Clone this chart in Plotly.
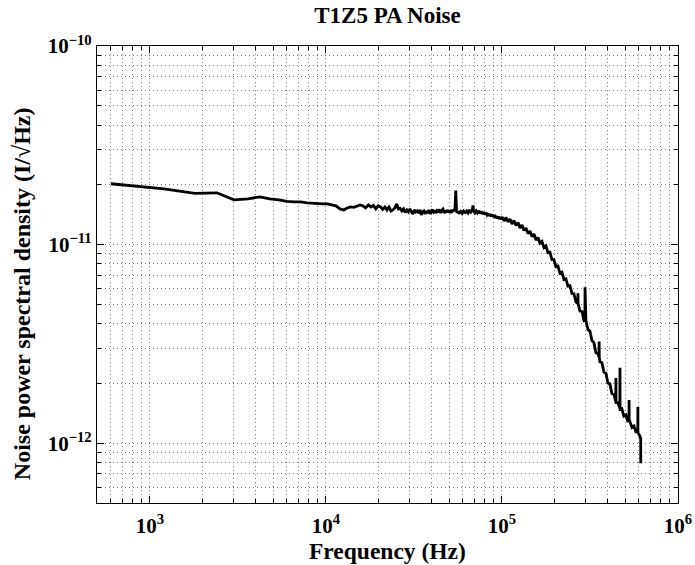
import math
import plotly.graph_objects as go

# ---- data ----
title_text = "T1Z5 PA Noise"
x_label = "Frequency (Hz)"
y_label = "Noise power spectral density (I/\u221aHz)"

# frequency in Hz
freq_hz = [
    600, 1200, 1800, 2400, 3000, 3600, 4200, 4800, 5400, 6000,
    6600, 7200, 7800, 8400, 9000, 9600, 10200, 10800, 11400, 12000,
    12600, 13200, 13800, 14400, 15000, 15600, 16200, 16800, 17400, 18000,
    18600, 19200, 19800, 20400, 21000, 21600, 22200, 22800, 23400, 24000,
    24600, 25200, 25800, 26400, 27000, 27600, 28200, 28800, 29400, 30000,
    30600, 31200, 31800, 32400, 33000, 33600, 34200, 34800, 35400, 36000,
    36600, 37200, 37800, 38400, 39000, 39600, 40200, 40800, 41400, 42000,
    42600, 43200, 43800, 44400, 45000, 45600, 46200, 46800, 47400, 48000,
    48600, 49200, 49800, 50400, 51000, 51600, 52200, 53400, 54000, 54600,
    55200, 55800, 57000, 58200, 59400, 60600, 61800, 63000, 64200, 65400,
    66600, 67800, 68400, 69000, 70200, 71400, 72600, 73800, 75000, 76200,
    77400, 78600, 79800, 81000, 82200, 83400, 84600, 85800, 87000, 88200,
    89400, 90600, 91800, 93000, 94200, 95400, 96600, 97800, 99000,
    100000, 102700, 105400, 108200, 111000, 114000, 117000, 120100, 123300, 126500,
    129900, 133300, 136900, 140500, 144200, 148000, 151900, 156000, 160100, 164300,
    168700, 173200, 177700, 182400, 187300, 192200, 197300, 202500, 207900, 213400,
    219100, 224900, 230800, 236900, 243200, 249700, 256300, 263100, 269400, 270000,
    270600, 277200, 284500, 292100, 295800, 296400, 297000, 299800, 307700, 315900,
    324300, 332900, 341700, 350700, 355800, 356400, 357000, 360000, 369600, 379400,
    389400, 399700, 410300, 421200, 432400, 443200, 443800, 444400, 455600, 467400,
    468000, 468600, 480000, 492700, 505800, 519200, 526800, 527400, 528000, 532900,
    547100, 561600, 576400, 591000, 591600, 592200, 607400, 613800, 614400,
]

# spectral density in units of 1e-11 (per sqrt Hz)
psd_1e11 = [
    2.025, 1.910, 1.812, 1.823, 1.680, 1.700, 1.740, 1.700, 1.681, 1.651,
    1.641, 1.641, 1.622, 1.613, 1.613, 1.604, 1.604, 1.585, 1.567, 1.512,
    1.495, 1.530, 1.548, 1.540, 1.567, 1.585, 1.567, 1.530, 1.585, 1.548,
    1.576, 1.512, 1.567, 1.548, 1.503, 1.548, 1.495, 1.548, 1.477, 1.495,
    1.530, 1.604, 1.512, 1.521, 1.477, 1.512, 1.451, 1.495, 1.460, 1.512,
    1.460, 1.427, 1.495, 1.460, 1.477, 1.443, 1.495, 1.410, 1.460, 1.477,
    1.427, 1.477, 1.443, 1.495, 1.427, 1.460, 1.503, 1.460, 1.486, 1.443,
    1.477, 1.451, 1.503, 1.477, 1.443, 1.495, 1.512, 1.469, 1.443, 1.486,
    1.460, 1.495, 1.451, 1.477, 1.443, 1.495, 1.469, 1.495, 1.477, 1.870,
    1.469, 1.460, 1.443, 1.469, 1.435, 1.477, 1.451, 1.477, 1.443, 1.495,
    1.460, 1.495, 1.576, 1.477, 1.443, 1.477, 1.443, 1.477, 1.435, 1.469,
    1.427, 1.460, 1.418, 1.451, 1.410, 1.435, 1.394, 1.427, 1.386, 1.418,
    1.378, 1.410, 1.362, 1.394, 1.354, 1.386, 1.346, 1.378, 1.338,
    1.378, 1.315, 1.370, 1.300, 1.346, 1.270, 1.322, 1.248, 1.291, 1.212,
    1.255, 1.178, 1.212, 1.136, 1.170, 1.098, 1.130, 1.054, 1.085, 1.018,
    1.038, 0.966, 0.985, 0.911, 0.916, 0.840, 0.840, 0.774, 0.780, 0.717,
    0.726, 0.667, 0.672, 0.618, 0.621, 0.568, 0.566, 0.514, 0.505, 0.568,
    0.505, 0.463, 0.461, 0.416, 0.420, 0.609, 0.416, 0.414, 0.374, 0.367,
    0.329, 0.321, 0.286, 0.282, 0.272, 0.325, 0.270, 0.257, 0.254, 0.228,
    0.225, 0.201, 0.199, 0.178, 0.176, 0.162, 0.213, 0.160, 0.160, 0.150,
    0.240, 0.148, 0.149, 0.137, 0.139, 0.128, 0.131, 0.165, 0.130, 0.129,
    0.120, 0.122, 0.114, 0.114, 0.152, 0.113, 0.1085, 0.106, 0.0792,
]

x_tick_vals = [1e3, 1e4, 1e5, 1e6]
x_tick_text = ["10<sup>3</sup>", "10<sup>4</sup>", "10<sup>5</sup>", "10<sup>6</sup>"]
y_tick_vals = [1e-12, 1e-11, 1e-10]
y_tick_text = ["10<sup>\u221212</sup>", "10<sup>\u221211</sup>", "10<sup>\u221210</sup>"]

x_limits = [500, 1e6]
y_limits = [5e-13, 1e-10]

psd = [v * 1e-11 for v in psd_1e11]

FONT = "Liberation Serif"
GRID = "#7a7a7a"

fig = go.Figure()
fig.add_trace(go.Scatter(
    x=freq_hz, y=psd, mode="lines",
    line=dict(color="black", width=2.8),
    showlegend=False, hoverinfo="skip",
))

axis_common = dict(
    type="log", automargin=False,
    showgrid=True, gridcolor=GRID, gridwidth=1, griddash="1px,3px",
    showline=True, linecolor="black", linewidth=1.2, mirror="allticks",
    ticks="inside", ticklen=7, tickwidth=1, tickcolor="black",
    zeroline=False,
    tickfont=dict(family=FONT, size=21, color="black", weight="bold"),
    minor=dict(dtick="D1", ticks="inside", ticklen=4, tickwidth=1, tickcolor="black",
               showgrid=True, gridcolor=GRID, gridwidth=1, griddash="1px,3px"),
)

fig.update_layout(
    width=695, height=565,
    paper_bgcolor="white", plot_bgcolor="white",
    margin=dict(l=97, r=17, t=46, b=62),
    title=dict(text=title_text, x=0.5, xref="paper", xanchor="center",
               y=0.973, yref="container", yanchor="middle",
               font=dict(family=FONT, size=23, color="black", weight="bold")),
    xaxis=dict(axis_common, range=[math.log10(x_limits[0]), math.log10(x_limits[1])],
               tickvals=x_tick_vals, ticktext=x_tick_text, ticklabelstandoff=4),
    yaxis=dict(axis_common, range=[math.log10(y_limits[0]), math.log10(y_limits[1])],
               tickvals=y_tick_vals, ticktext=y_tick_text),
    annotations=[
        dict(text=x_label, x=0.5, y=-0.106, xref="paper", yref="paper",
             xanchor="center", yanchor="middle", showarrow=False,
             font=dict(family=FONT, size=23.5, color="black", weight="bold")),
        dict(text=y_label, x=-0.129, y=0.457, xref="paper", yref="paper",
             xanchor="center", yanchor="middle", showarrow=False, textangle=-90,
             font=dict(family=FONT, size=24, color="black", weight="bold")),
    ],
)

fig.write_html("out.html")
